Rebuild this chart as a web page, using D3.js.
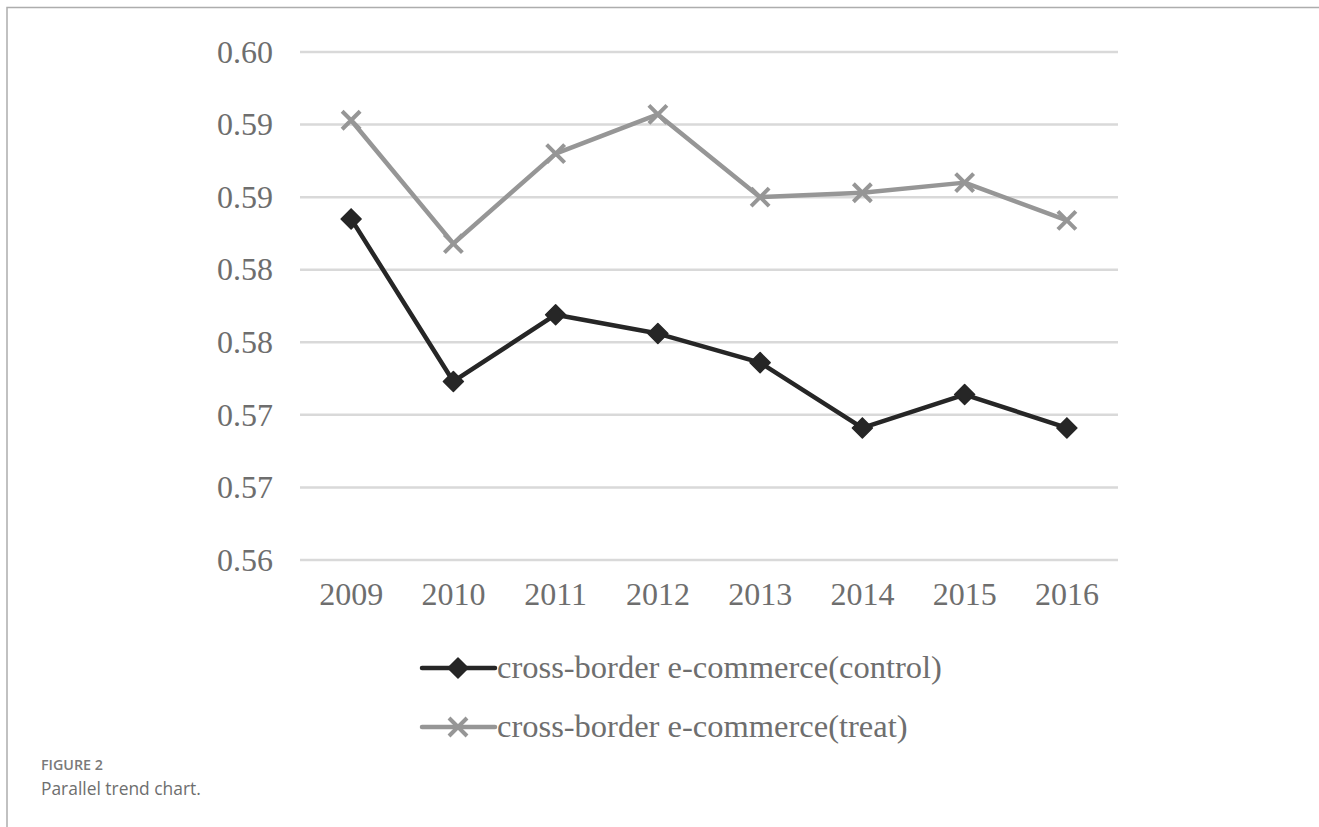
<!DOCTYPE html>
<html>
<head>
<meta charset="utf-8">
<script src="https://cdn.jsdelivr.net/npm/d3@7"></script>
<style>
  body { margin: 0; background: #fff; }
  svg { display: block; }
</style>
</head>
<body>
<svg id="chart"></svg>
<script>
// data
const years = ["2009", "2010", "2011", "2012", "2013", "2014", "2015", "2016"];
const controlValues = [0.5885, 0.5773, 0.5819, 0.5806, 0.5786, 0.5741, 0.5764, 0.5741];
const treatValues = [0.5953, 0.5868, 0.5930, 0.5957, 0.5900, 0.5903, 0.5910, 0.5884];
const yTicks = [0.600, 0.595, 0.590, 0.585, 0.580, 0.575, 0.570, 0.565];
const yTickLabels = ["0.60", "0.59", "0.59", "0.58", "0.58", "0.57", "0.57", "0.56"];
const seriesNames = ["cross-border e-commerce(control)", "cross-border e-commerce(treat)"];

const width = 1319, height = 827;
const margin = { top: 52, right: 201, bottom: 267, left: 300 };

const svg = d3.select('#chart')
    .attr('width', width)
    .attr('height', height);

// outer frame (top + left only)
svg.append('path')
    .attr('d', `M7,${height} L7,7.5 L${width},7.5`)
    .attr('fill', 'none')
    .attr('stroke', '#adadad')
    .attr('stroke-width', 1.5);

const chart = svg.append('g')
    .attr('transform', `translate(${margin.left},${margin.top})`);

const innerW = width - margin.left - margin.right;
const innerH = height - margin.top - margin.bottom;

const xScale = d3.scaleBand()
    .domain(years)
    .range([0, innerW]);

const yScale = d3.scaleLinear()
    .domain([0.565, 0.600])
    .range([innerH, 0]);

// gridlines
chart.selectAll('.grid')
    .data(yTicks)
    .join('line')
    .attr('class', 'grid')
    .attr('x1', 0)
    .attr('x2', innerW)
    .attr('y1', d => yScale(d))
    .attr('y2', d => yScale(d))
    .attr('stroke', '#d9d9d9')
    .attr('stroke-width', 2.5);

// y axis labels
const yAxis = d3.axisLeft(yScale)
    .tickValues(yTicks)
    .tickFormat((d, i) => yTickLabels[i])
    .tickSize(0)
    .tickPadding(27);

chart.append('g')
    .attr('class', 'axis y-axis')
    .call(yAxis)
    .call(g => g.select('.domain').remove())
    .call(g => g.selectAll('text')
        .attr('fill', '#6e6e6e')
        .style('font-family', '"Liberation Serif", "Times New Roman", serif')
        .style('font-size', '32px'));

const xAxis = d3.axisBottom(xScale)
    .tickSize(0)
    .tickPadding(22);

chart.append('g')
    .attr('class', 'axis x-axis')
    .attr('transform', `translate(0,${innerH})`)
    .call(xAxis)
    .call(g => g.select('.domain').remove())
    .call(g => g.selectAll('text')
        .attr('fill', '#6e6e6e')
        .style('font-family', '"Liberation Serif", "Times New Roman", serif')
        .style('font-size', '32px'));

const xCenter = d => xScale(d) + xScale.bandwidth() / 2;

const line = d3.line()
    .x(d => xCenter(d.year))
    .y(d => yScale(d.value));

const controlData = years.map((y, i) => ({ year: y, value: controlValues[i] }));
const treatData = years.map((y, i) => ({ year: y, value: treatValues[i] }));

const controlColor = '#262626';
const treatColor = '#969696';

function diamond(sel, size) {
    sel.attr('d', `M0,${-size}L${size},0L0,${size}L${-size},0Z`)
        .attr('fill', controlColor)
        .attr('stroke', controlColor)
        .attr('stroke-width', 1.5)
        .attr('stroke-linejoin', 'round');
}

function cross(sel, size) {
    sel.attr('d', `M${-size},${-size}L${size},${size}M${-size},${size}L${size},${-size}`)
        .attr('fill', 'none')
        .attr('stroke', treatColor)
        .attr('stroke-width', 4);
}

// treat series
chart.append('path')
    .datum(treatData)
    .attr('fill', 'none')
    .attr('stroke', treatColor)
    .attr('stroke-width', 4.5)
    .attr('stroke-linejoin', 'round')
    .attr('d', line);

chart.selectAll('.treat-pt')
    .data(treatData)
    .join('path')
    .attr('class', 'treat-pt')
    .attr('transform', d => `translate(${xCenter(d.year)},${yScale(d.value)})`)
    .call(cross, 9);

// control series
chart.append('path')
    .datum(controlData)
    .attr('fill', 'none')
    .attr('stroke', controlColor)
    .attr('stroke-width', 4.5)
    .attr('stroke-linejoin', 'round')
    .attr('d', line);

chart.selectAll('.control-pt')
    .data(controlData)
    .join('path')
    .attr('class', 'control-pt')
    .attr('transform', d => `translate(${xCenter(d.year)},${yScale(d.value)})`)
    .call(diamond, 10);

// legend
const legend = svg.append('g')
    .attr('transform', 'translate(422,668)');

const legendItems = [
    { name: seriesNames[0], color: controlColor, marker: diamond },
    { name: seriesNames[1], color: treatColor, marker: cross }
];

legendItems.forEach((item, i) => {
    const g = legend.append('g')
        .attr('transform', `translate(0,${i * 59})`);
    g.append('line')
        .attr('x1', 0).attr('x2', 73)
        .attr('y1', 0).attr('y2', 0)
        .attr('stroke', item.color)
        .attr('stroke-width', 4.5)
        .attr('stroke-linecap', 'round');
    g.append('path')
        .attr('transform', 'translate(36,0)')
        .call(item.marker, i === 0 ? 10 : 9);
    g.append('text')
        .attr('x', 75)
        .attr('y', 0)
        .attr('dy', '0.32em')
        .attr('fill', '#6e6e6e')
        .style('font-family', '"Liberation Serif", "Times New Roman", serif')
        .style('font-size', '32.5px')
        .text(item.name);
});

// caption
svg.append('text')
    .attr('x', 41)
    .attr('y', 770)
    .attr('fill', '#7a7a7a')
    .style('font-family', '"Open Sans", sans-serif')
    .style('font-size', '14.3px')
    .style('font-weight', 600)
    .text('FIGURE 2');

svg.append('text')
    .attr('x', 41)
    .attr('y', 795)
    .attr('fill', '#6e6e6e')
    .style('font-family', '"Open Sans", sans-serif')
    .style('font-size', '17.4px')
    .text('Parallel trend chart.');
</script>
</body>
</html>
